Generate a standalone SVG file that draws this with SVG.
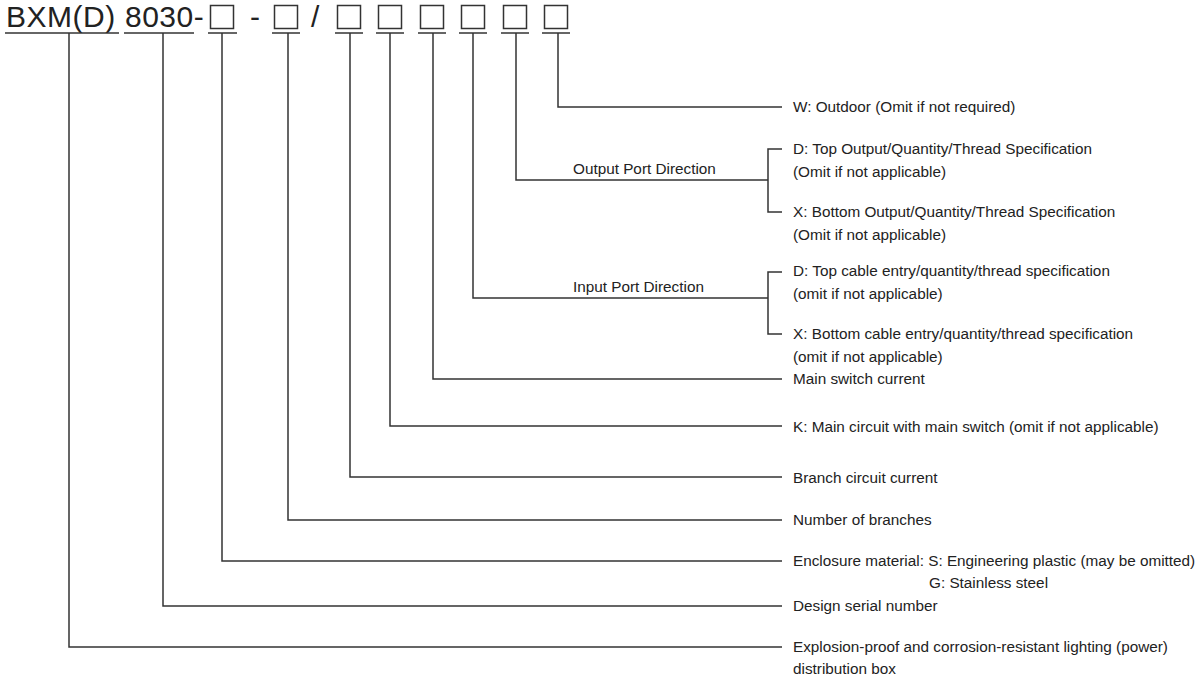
<svg xmlns="http://www.w3.org/2000/svg" width="1200" height="680" viewBox="0 0 1200 680">
<style>
.t{font-family:"Liberation Sans",Arial,sans-serif;font-size:15.3px;fill:#222}
.h{font-family:"Liberation Sans",Arial,sans-serif;font-size:30px;fill:#222;letter-spacing:0.5px}
.ln{fill:none;stroke:#333;stroke-width:1.5}
.bx{fill:none;stroke:#333;stroke-width:1.5}
</style>
<rect width="1200" height="680" fill="#fff"/>
<g id="header">
<text class="h" x="6" y="27">BXM(D)</text>
<text class="h" x="125" y="27">8030-</text>
<text class="h" x="250" y="27" style="letter-spacing:0">-</text>
<text class="h" x="311" y="27" style="letter-spacing:0">/</text>
<line class="ln" x1="5" y1="33" x2="119" y2="33"/>
<line class="ln" x1="124" y1="33" x2="194" y2="33"/>
<rect class="bx" x="210.5" y="5.5" width="23" height="23"/>
<line class="ln" x1="208" y1="33" x2="237" y2="33"/>
<rect class="bx" x="274.5" y="5.5" width="23" height="23"/>
<line class="ln" x1="272" y1="33" x2="300" y2="33"/>
<rect class="bx" x="337.5" y="5.5" width="23" height="23"/>
<line class="ln" x1="335" y1="33" x2="363" y2="33"/>
<rect class="bx" x="378.5" y="5.5" width="23" height="23"/>
<line class="ln" x1="376" y1="33" x2="404" y2="33"/>
<rect class="bx" x="420.5" y="5.5" width="23" height="23"/>
<line class="ln" x1="418" y1="33" x2="446" y2="33"/>
<rect class="bx" x="461.5" y="5.5" width="23" height="23"/>
<line class="ln" x1="459" y1="33" x2="487" y2="33"/>
<rect class="bx" x="503.5" y="5.5" width="23" height="23"/>
<line class="ln" x1="501" y1="33" x2="529" y2="33"/>
<rect class="bx" x="544.5" y="5.5" width="23" height="23"/>
<line class="ln" x1="542" y1="33" x2="570" y2="33"/>
</g>
<g id="connectors">
<polyline class="ln" points="558,33 558,107 782,107"/>
<polyline class="ln" points="516,33 516,180 768,180"/>
<polyline class="ln" points="782,149 768,149 768,212 782,212"/>
<polyline class="ln" points="473,33 473,298 768,298"/>
<polyline class="ln" points="782,272 768,272 768,334 782,334"/>
<polyline class="ln" points="433,33 433,379 782,379"/>
<polyline class="ln" points="390,33 390,426 782,426"/>
<polyline class="ln" points="350,33 350,477 782,477"/>
<polyline class="ln" points="288,33 288,520 782,520"/>
<polyline class="ln" points="222,33 222,561 782,561"/>
<polyline class="ln" points="163,33 163,606 782,606"/>
<polyline class="ln" points="69,33 69,647 782,647"/>
</g>
<g id="n-w"><text class="t" x="793" y="112">W: Outdoor (Omit if not required)</text></g>
<g id="n-output">
<text class="t" x="573" y="174">Output Port Direction</text>
<text class="t" x="793" y="154">D: Top Output/Quantity/Thread Specification</text>
<text class="t" x="793" y="177">(Omit if not applicable)</text>
<text class="t" x="793" y="217">X: Bottom Output/Quantity/Thread Specification</text>
<text class="t" x="793" y="240">(Omit if not applicable)</text>
</g>
<g id="n-input">
<text class="t" x="573" y="292">Input Port Direction</text>
<text class="t" x="793" y="276">D: Top cable entry/quantity/thread specification</text>
<text class="t" x="793" y="299">(omit if not applicable)</text>
<text class="t" x="793" y="339">X: Bottom cable entry/quantity/thread specification</text>
<text class="t" x="793" y="362">(omit if not applicable)</text>
</g>
<g id="n-main"><text class="t" x="793" y="384">Main switch current</text></g>
<g id="n-k"><text class="t" x="793" y="432">K: Main circuit with main switch (omit if not applicable)</text></g>
<g id="n-branch"><text class="t" x="793" y="483">Branch circuit current</text></g>
<g id="n-number"><text class="t" x="793" y="525">Number of branches</text></g>
<g id="n-enclosure">
<text class="t" x="793" y="566">Enclosure material: S: Engineering plastic (may be omitted)</text>
<text class="t" x="929" y="588">G: Stainless steel</text>
</g>
<g id="n-design"><text class="t" x="793" y="611">Design serial number</text></g>
<g id="n-explosion">
<text class="t" x="793" y="652">Explosion-proof and corrosion-resistant lighting (power)</text>
<text class="t" x="793" y="674">distribution box</text>
</g>
</svg>
